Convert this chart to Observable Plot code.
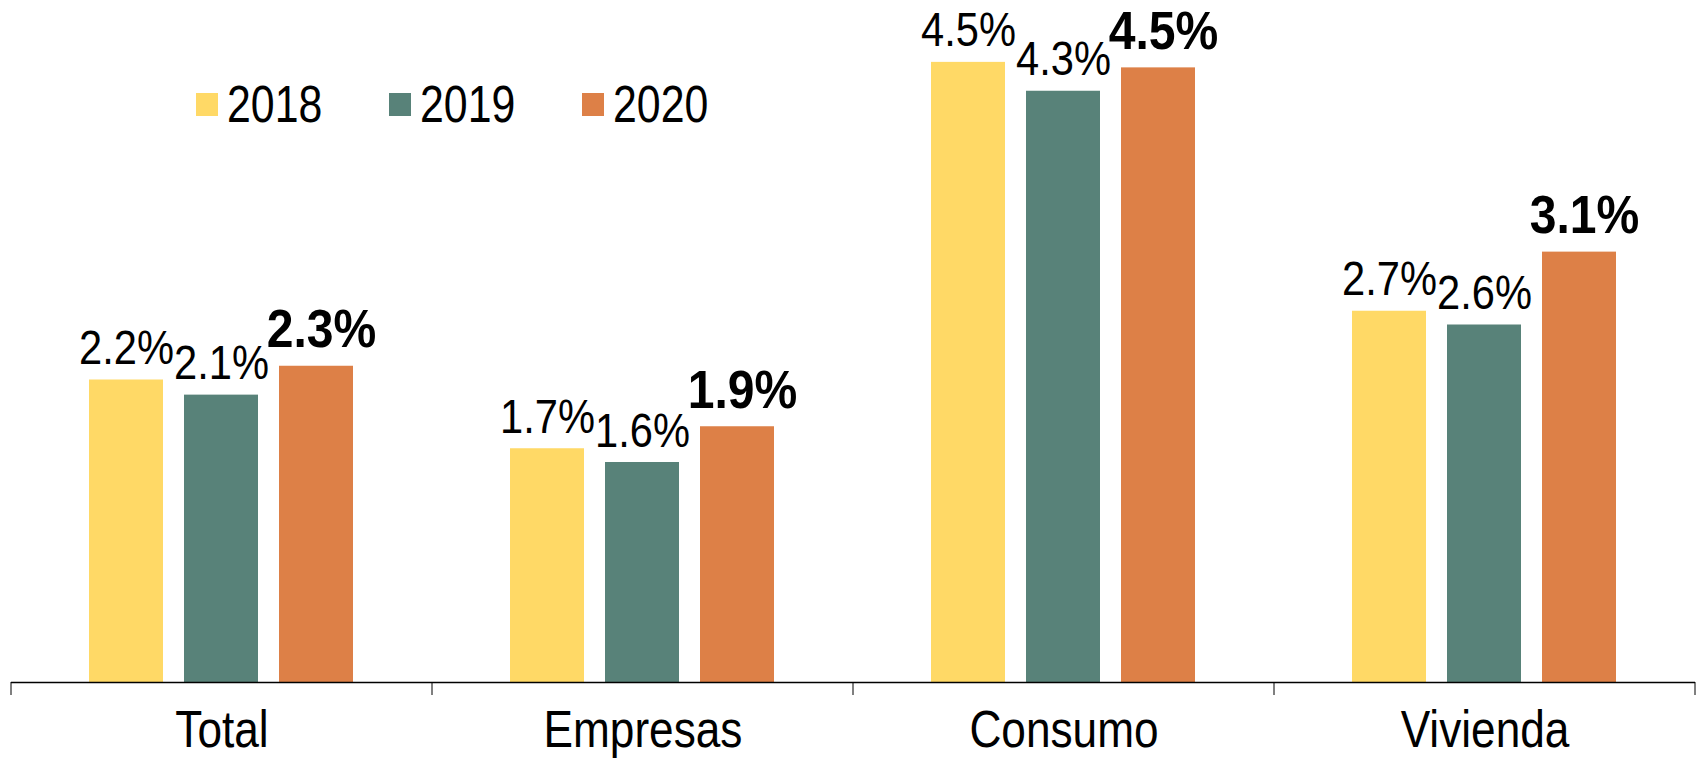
<!DOCTYPE html>
<html>
<head>
<meta charset="utf-8">
<script src="https://cdn.jsdelivr.net/npm/d3@7"></script>
<script src="https://cdn.jsdelivr.net/npm/@observablehq/plot@0.6"></script>
<style>
  html, body { margin: 0; padding: 0; background: #fff; }
  #wrap { position: relative; width: 1697px; height: 758px; overflow: hidden; }
  #legend { position: absolute; left: 196px; top: 82px; display: flex; }
  .item { display: flex; align-items: center; width: 193px; height: 45px; }
  .sw { width: 22px; height: 23px; margin-right: 9px; flex: none; }
  .lt { font-size: 51px; line-height: 1; color: #000; transform: scaleX(0.84); transform-origin: left center; }
</style>
</head>
<body>
<div id="wrap"><div id="legend"></div></div>
<script>
const categories = ["Total", "Empresas", "Consumo", "Vivienda"];
const years = ["2018", "2019", "2020"];
const values2018 = [2.20, 1.70, 4.51, 2.70];
const values2019 = [2.09, 1.60, 4.30, 2.60];
const values2020 = [2.30, 1.86, 4.47, 3.13];
const colors = ["#FFD966", "#588279", "#DD8047"];

const FONT = '"Liberation Sans Narrow", "Arial Narrow", "Liberation Sans", Arial, sans-serif';
document.getElementById("wrap").style.fontFamily = FONT;

const series = [values2018, values2019, values2020];
const data = categories.flatMap((c, i) => years.map((y, j) => ({category: c, year: y, value: series[j][i]})));
const fmt = d => d.value.toFixed(1) + "%";

const plot = Plot.plot({
  width: 1697,
  height: 758,
  marginLeft: 11,
  marginRight: 2,
  marginTop: 0,
  marginBottom: 76,
  style: {fontFamily: FONT, fontSize: "52px", color: "#000", background: "transparent", overflow: "visible"},
  fx: {domain: categories, padding: 0, label: null, axis: "bottom", tickSize: 0, tickPadding: 28},
  x: {domain: years, paddingInner: 0.22, paddingOuter: 0.81, axis: null},
  y: {domain: [0, 4.96], axis: null},
  color: {domain: years, range: colors},
  marks: [
    Plot.barY(data, {fx: "category", x: "year", y: "value", fill: "year"}),
    Plot.text(data.filter(d => d.year !== "2020"), {fx: "category", x: "year", y: "value", text: fmt, lineAnchor: "bottom", dy: -16, fontSize: 49, fill: "#000"}),
    Plot.text(data.filter(d => d.year === "2020"), {fx: "category", x: "year", y: "value", text: fmt, lineAnchor: "bottom", dy: -19, dx: 5, fontSize: 54, fontWeight: "bold", fill: "#000"}),
    Plot.ruleY([0], {stroke: "#000", strokeWidth: 1.5})
  ]
});
document.getElementById("wrap").appendChild(plot);

// condense every SVG text horizontally around its own centre (narrow typeface look)
d3.select(plot).selectAll("text").each(function() {
  const bold = (this.getAttribute("font-weight") || (this.parentNode && this.parentNode.getAttribute && this.parentNode.getAttribute("font-weight")) || "") === "bold";
  const k = bold ? 0.89 : 0.85;
  const b = this.getBBox();
  const cx = b.x + b.width / 2;
  const t = this.getAttribute("transform") || "";
  this.setAttribute("transform", `${t} translate(${cx},0) scale(${k},1) translate(${-cx},0)`);
});

// category boundary ticks below the baseline, from the fx scale
const fxs = plot.scale("fx");
const ys = plot.scale("y");
const y0 = ys.apply(0);
const edges = categories.map(c => fxs.apply(c)).concat([fxs.apply(categories[categories.length - 1]) + fxs.bandwidth]);
d3.select(plot).append("g").selectAll("line").data(edges).join("line")
  .attr("x1", d => d).attr("x2", d => d)
  .attr("y1", y0).attr("y2", y0 + 13)
  .attr("stroke", "#000").attr("stroke-width", 1);

// legend
const lg = d3.select("#legend");
years.forEach((y, j) => {
  const it = lg.append("div").attr("class", "item");
  it.append("div").attr("class", "sw").style("background", colors[j]);
  it.append("div").attr("class", "lt").text(y);
});
</script>
</body>
</html>
